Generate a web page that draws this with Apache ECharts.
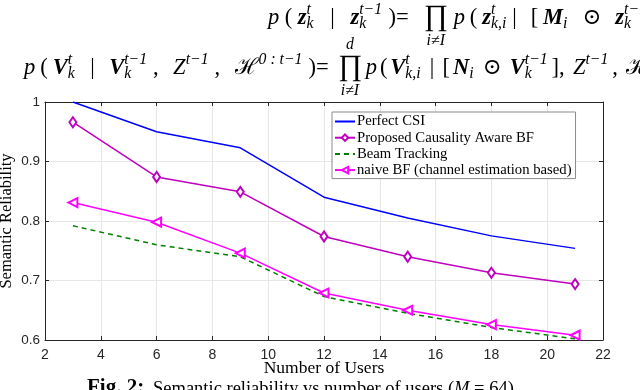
<!DOCTYPE html>
<html>
<head>
<meta charset="utf-8">
<script src="https://cdn.jsdelivr.net/npm/echarts@6/dist/echarts.min.js"></script>
<style>
  html, body { margin: 0; padding: 0; background: #fff; }
  #chart { width: 640px; height: 390px; }
</style>
</head>
<body>
<div id="chart"></div>
<script>
/* values */
const users = [3, 6, 9, 12, 15, 18, 21];
const perfectCsi = [1.000, 0.950, 0.923, 0.840, 0.805, 0.775, 0.754];
const proposedBf = [0.966, 0.874, 0.849, 0.774, 0.740, 0.713, 0.694];
const beamTracking = [0.792, 0.760, 0.740, 0.673, 0.645, 0.621, 0.602];
const naiveBf = [0.831, 0.798, 0.746, 0.679, 0.650, 0.626, 0.608];

const seriesNames = ['Perfect CSI', 'Proposed Causality Aware BF', 'Beam Tracking',
    'naive BF (channel estimation based)'];

const SERIF = '"Liberation Serif", "DejaVu Serif", serif';
const SANS = '"Liberation Sans", Arial, sans-serif';

function pairs(ys) {
    return users.map((u, i) => [u, ys[i]]);
}

/**---------------------------------------------------------------------------------------------------------------------
 * Equation text above the plot (laid out token by token)
 *-------------------------------------------------------------------------------------------------------------------*/
const SCRIPT = 0.7;
const EQ_SIZE = 22.5;
const measureCtx = document.createElement('canvas').getContext('2d');
function textWidth(text, font) {
    measureCtx.font = font;
    return measureCtx.measureText(text).width;
}

function tokenFont(tk, size) {
    let style = '';
    if (tk.it) style = 'italic ';
    if (tk.bd) style = 'italic bold ';
    return style + size + 'px ' + SERIF;
}

function isScript(tk) {
    return tk && !tk.t && !tk.op && !tk.sp;
}

function tokenWidth(tk, size) {
    let s = size * SCRIPT;
    if (tk.sp) return 0;
    if (tk.t) return textWidth(tk.t, tokenFont(tk, size));
    if (tk.op) return textWidth(tk.op, size * 1.3 + 'px ' + SERIF) + 2;
    let wSup = tk.sup ? textWidth(tk.sup, 'italic ' + s + 'px ' + SERIF) : 0;
    let wSub = tk.sub ? textWidth(tk.sub, 'italic ' + s + 'px ' + SERIF) : 0;
    return Math.max(wSup, wSub) + 1;
}

// leftover width: glue tokens {sp: n} take a full share, every other gap a small one
const GAP_SHARE = 0.35;
function glueOf(tokens, i) {
    let tk = tokens[i];
    if (tk.sp) return tk.sp;
    if (i < tokens.length - 1 && !isScript(tokens[i + 1]) && !tokens[i + 1].sp) return GAP_SHARE;
    return 0;
}

function layoutTokens(tokens, x, endX, y, size, out) {
    let s = size * SCRIPT;
    let natural = tokens.reduce((acc, tk) => acc + tokenWidth(tk, size), 0);
    let glue = tokens.reduce((acc, tk, i) => acc + glueOf(tokens, i), 0);
    let unit = glue ? Math.max(0, (endX - x - natural) / glue) : 0;

    tokens.forEach((tk, i) => {
        let w = tokenWidth(tk, size);
        if (tk.t) {
            out.push({ type: 'text', x: x, y: y,
                style: { text: tk.t, font: tokenFont(tk, size), fill: '#000', verticalAlign: 'middle' } });
        } else if (tk.op) {
            out.push({ type: 'text', x: x + w / 2, y: y - 1,
                style: { text: tk.op, font: size * 1.3 + 'px ' + SERIF, fill: '#000', align: 'center', verticalAlign: 'middle' } });
            if (tk.above) {
                out.push({ type: 'text', x: x + w / 2, y: y - size * 1.02,
                    style: { text: tk.above, font: 'italic ' + s + 'px ' + SERIF, fill: '#000', align: 'center', verticalAlign: 'middle' } });
            }
            if (tk.below) {
                out.push({ type: 'text', x: x + w / 2, y: y + size * 1.0,
                    style: { text: tk.below, font: 'italic ' + s + 'px ' + SERIF, fill: '#000', align: 'center', verticalAlign: 'middle' } });
            }
        } else if (!tk.sp) {
            if (tk.sup) {
                out.push({ type: 'text', x: x, y: y - size * 0.34,
                    style: { text: tk.sup, font: 'italic ' + s + 'px ' + SERIF, fill: '#000', verticalAlign: 'middle' } });
            }
            if (tk.sub) {
                out.push({ type: 'text', x: x, y: y + size * 0.28,
                    style: { text: tk.sub, font: 'italic ' + s + 'px ' + SERIF, fill: '#000', verticalAlign: 'middle' } });
            }
        }
        x += w + glueOf(tokens, i) * unit;
    });
}

let eqElements = [];
// line 1: lhs 268..396, rhs 396..646 (cut by the page edge)
layoutTokens(
    [{t: 'p', it: 1}, {t: '('}, {t: 'z', bd: 1}, {sup: 't', sub: 'k'}, {sp: 1}, {t: '|'}, {sp: 1},
     {t: 'z', bd: 1}, {sup: 't\u22121', sub: 'k'}, {t: ')'}],
    268, 396, 18, EQ_SIZE, eqElements);
layoutTokens(
    [{t: '='}, {sp: 1}, {op: '\u220F', below: 'i\u2260I', above: 'd'}, {t: 'p', it: 1}, {t: '('},
     {t: 'z', bd: 1}, {sup: 't', sub: 'k,i'}, {t: '|'}, {sp: 1}, {t: '['}, {t: 'M', bd: 1}, {sub: 'i'}, {sp: 1},
     {t: '\u2299'}, {sp: 1}, {t: 'z', bd: 1}, {sup: 't\u22121', sub: 'k'}],
    396, 648, 18, EQ_SIZE, eqElements);
// line 2: lhs 24..316, rhs 316..646
layoutTokens(
    [{t: 'p', it: 1}, {t: '('}, {t: 'V', bd: 1}, {sup: 't', sub: 'k'}, {sp: 1}, {t: '|'}, {sp: 1},
     {t: 'V', bd: 1}, {sup: 't\u22121', sub: 'k'}, {t: ','}, {sp: 1}, {t: 'Z', it: 1}, {sup: 't\u22121'},
     {t: ','}, {sp: 1}, {t: '\u210B'}, {sup: '0 : t\u22121'}, {t: ')'}],
    24, 316, 68, EQ_SIZE, eqElements);
layoutTokens(
    [{t: '='}, {sp: 1}, {op: '\u220F', below: 'i\u2260I', above: 'd'}, {t: 'p', it: 1}, {t: '('},
     {t: 'V', bd: 1}, {sup: 't', sub: 'k,i'}, {sp: 1}, {t: '|'}, {sp: 1}, {t: '['}, {t: 'N', bd: 1}, {sub: 'i'},
     {sp: 1}, {t: '\u2299'}, {sp: 1}, {t: 'V', bd: 1}, {sup: 't\u22121', sub: 'k'}, {t: '],'}, {sp: 1},
     {t: 'Z', it: 1}, {sup: 't\u22121'}, {t: ','}, {sp: 1}, {t: '\u210B'}],
    316, 650, 68, EQ_SIZE, eqElements);

/**---------------------------------------------------------------------------------------------------------------------
 * Chart
 *-------------------------------------------------------------------------------------------------------------------*/
const chart = echarts.init(document.getElementById('chart'), null, { renderer: 'canvas' });

const axisLine = { show: true, lineStyle: { color: '#262626', width: 1 } };
const tickInside = { show: true, inside: true, length: 4, lineStyle: { color: '#262626' } };

const option = {
    animation: false,
    backgroundColor: '#fff',
    grid: { left: 45, right: 37, top: 102, bottom: 50, containLabel: false, outerBoundsMode: 'none' },
    legend: {
        orient: 'vertical',
        left: 332, top: 112,
        backgroundColor: '#fff',
        borderColor: '#8a8a8a',
        borderWidth: 1,
        borderRadius: 0,
        padding: [2, 4, 1, 2],
        itemGap: 1.2,
        itemWidth: 20,
        itemHeight: 8,
        textStyle: { fontFamily: SERIF, fontSize: 14.7, color: '#000', lineHeight: 13, padding: [0, 0, 0, -3] },
        data: [
            { name: seriesNames[0], itemStyle: { opacity: 0 } },
            { name: seriesNames[1] },
            { name: seriesNames[2], itemStyle: { opacity: 0 } },
            { name: seriesNames[3] }
        ]
    },
    xAxis: [{
        type: 'value', min: 2, max: 22, interval: 2,
        name: 'Number of Users', nameLocation: 'middle', nameGap: 19, nameMoveOverlap: false,
        nameTextStyle: { fontFamily: SERIF, fontSize: 17.5, color: '#000' },
        axisLine: axisLine, axisTick: tickInside,
        axisLabel: { fontFamily: SANS, fontSize: 14, color: '#262626', margin: 8 },
        splitLine: { show: true, lineStyle: { color: '#e6e6e6' } }
    }, {
        type: 'value', position: 'top', min: 2, max: 22, interval: 2,
        axisLine: axisLine, axisTick: tickInside,
        axisLabel: { show: false }, splitLine: { show: false }
    }],
    yAxis: [{
        type: 'value', min: 0.6, max: 1, interval: 0.1,
        name: 'Semantic Reliability', nameLocation: 'middle', nameGap: 30, nameMoveOverlap: false,
        nameTextStyle: { fontFamily: SERIF, fontSize: 16.5, color: '#000' },
        axisLine: axisLine, axisTick: tickInside,
        axisLabel: { fontFamily: SANS, fontSize: 13.5, color: '#262626', margin: 5,
            formatter: v => String(+v.toFixed(1)) },
        splitLine: { show: true, lineStyle: { color: '#e6e6e6' } }
    }, {
        type: 'value', position: 'right', min: 0.6, max: 1, interval: 0.1,
        axisLine: axisLine, axisTick: tickInside,
        axisLabel: { show: false }, splitLine: { show: false }
    }],
    series: [{
        name: seriesNames[0], type: 'line', data: pairs(perfectCsi),
        showSymbol: false, symbol: 'none',
        lineStyle: { color: '#0000ff', width: 1.5 }, itemStyle: { color: '#0000ff' }
    }, {
        name: seriesNames[1], type: 'line', data: pairs(proposedBf),
        symbol: 'emptyDiamond', symbolSize: [7, 10],
        lineStyle: { color: '#bf00bf', width: 1.5 },
        itemStyle: { color: '#bf00bf', borderColor: '#bf00bf', borderWidth: 1.5 }
    }, {
        name: seriesNames[2], type: 'line', data: pairs(beamTracking),
        symbol: 'none',
        lineStyle: { color: '#008000', width: 1.5, type: [5, 4] }, itemStyle: { color: '#008000' }
    }, {
        name: seriesNames[3], type: 'line', data: pairs(naiveBf),
        symbol: 'emptyTriangle', symbolSize: 9, symbolRotate: 90,
        lineStyle: { color: '#ff00ff', width: 1.5 },
        itemStyle: { color: '#ff00ff', borderColor: '#ff00ff', borderWidth: 1.5 }
    }],
    graphic: eqElements.concat([{
        type: 'text', left: 87, top: 377,
        style: { text: 'Fig. 2:', font: 'bold 21px ' + SERIF, fill: '#000' }
    }, {
        type: 'text', left: 153, top: 380,
        style: {
            text: 'Semantic reliability vs number of users ({m|M} = 64)',
            font: '18.5px ' + SERIF, fill: '#000',
            rich: { m: { fontStyle: 'italic', fontFamily: SERIF, fontSize: 18.5 } }
        }
    }])
};

chart.setOption(option);
</script>
</body>
</html>
